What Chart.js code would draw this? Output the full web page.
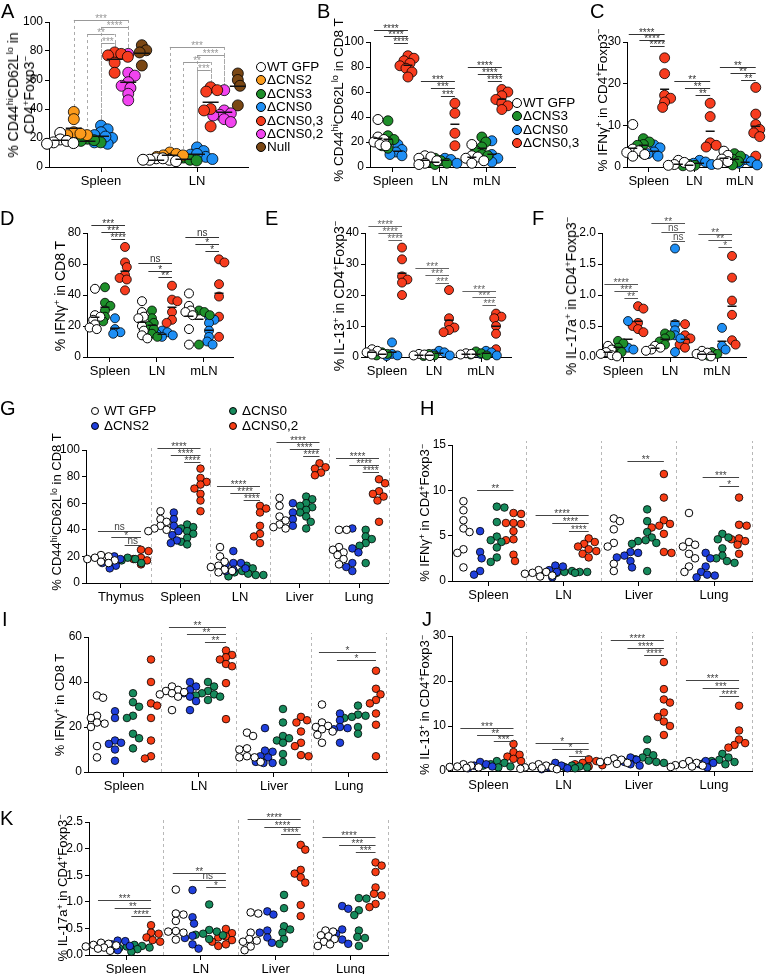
<!DOCTYPE html>
<html>
<head>
<meta charset="utf-8">
<title>CNS deletion panels</title>
<script src="https://cdn.jsdelivr.net/npm/chart.js@4.4.1/dist/chart.umd.min.js"></script>
<style>
  body { margin: 0; background: #fff; }
  #fig { position: relative; width: 767px; height: 974px; overflow: hidden; font-family: Arial, "Liberation Sans", Helvetica, sans-serif; color: #000; }
  #fig canvas { position: absolute; left: 0; top: 0; }
  .letter { position: absolute; font-size: 20px; line-height: 20px; }
  .ytitle { position: absolute; white-space: nowrap; text-align: center; transform: translate(-50%, -50%) rotate(-90deg); font-size: 14px; line-height: 16px; }
  .ytitle.md { font-size: 13.5px; }
  .ytitle.sm { font-size: 13px; }
  .s { font-size: 0.68em; vertical-align: 0.5em; line-height: 0; }
  .legend { position: absolute; font-size: 13.5px; }
  .legend div { height: 13.4px; line-height: 13.4px; white-space: nowrap; }
  .legend.g { font-size: 13.5px; }
  .legend.g div { height: 14.5px; line-height: 14.5px; }
  .dot { display: inline-block; box-sizing: border-box; border: 1px solid #000; border-radius: 50%; vertical-align: -1px; width: 10px; height: 10px; margin-right: 1px; }
  .legend.g .dot { width: 8px; height: 8px; margin-right: 5px; vertical-align: 0; }
</style>
</head>
<body>
<div id="fig">
  <div class="letter" style="left:1px;top:1px">A</div>
  <div class="letter" style="left:317px;top:1px">B</div>
  <div class="letter" style="left:590px;top:1px">C</div>
  <div class="letter" style="left:0px;top:208px">D</div>
  <div class="letter" style="left:265px;top:208px">E</div>
  <div class="letter" style="left:532px;top:208px">F</div>
  <div class="letter" style="left:0px;top:398px">G</div>
  <div class="letter" style="left:420px;top:398px">H</div>
  <div class="letter" style="left:2px;top:609px">I</div>
  <div class="letter" style="left:422px;top:609px">J</div>
  <div class="letter" style="left:0px;top:808px">K</div>

  <div class="ytitle" style="left:21px;top:95px">% CD44<span class="s">hi</span>CD62L<span class="s">lo</span> in<br>CD4<span class="s">+</span>Foxp3<span class="s">−</span></div>
  <div class="ytitle md" style="left:339px;top:100px">% CD44<span class="s">hi</span>CD62L<span class="s">lo</span> in CD8 T</div>
  <div class="ytitle md" style="left:603px;top:100px">% IFNγ<span class="s">+</span> in CD4<span class="s">+</span>Foxp3<span class="s">−</span></div>
  <div class="ytitle" style="left:60px;top:296px">% IFNγ<span class="s">+</span> in CD8 T</div>
  <div class="ytitle" style="left:339px;top:296px">% IL-13<span class="s">+</span> in CD4<span class="s">+</span>Foxp3<span class="s">−</span></div>
  <div class="ytitle" style="left:571px;top:296px">% IL-17a<span class="s">+</span> in CD4<span class="s">+</span>Foxp3<span class="s">−</span></div>
  <div class="ytitle sm" style="left:57px;top:512px">% CD44<span class="s">hi</span>CD62L<span class="s">lo</span> in CD8 T</div>
  <div class="ytitle sm" style="left:425px;top:513px">% IFNγ<span class="s">+</span> in CD4<span class="s">+</span>Foxp3<span class="s">−</span></div>
  <div class="ytitle sm" style="left:60px;top:705px">% IFNγ<span class="s">+</span> in CD8 T</div>
  <div class="ytitle sm" style="left:425px;top:705px">% IL-13<span class="s">+</span> in CD4<span class="s">+</span>Foxp3<span class="s">−</span></div>
  <div class="ytitle sm" style="left:63px;top:888px">% IL-17a<span class="s">+</span> in CD4<span class="s">+</span>Foxp3<span class="s">−</span></div>

  <div class="legend" id="legA" style="left:256px;top:60px"></div>
  <div class="legend" id="legB" style="left:512px;top:96px"></div>
  <div class="legend g" id="legG1" style="left:91px;top:404px"></div>
  <div class="legend g" id="legG2" style="left:229px;top:404px"></div>
</div>

<script>
const W = 767, H = 974;
const FONT = 'Arial, "Liberation Sans", Helvetica, sans-serif';

// categories
const tissuesA = ['Spleen', 'LN'];
const tissues3 = ['Spleen', 'LN', 'mLN'];
const tissues5 = ['Thymus', 'Spleen', 'LN', 'Liver', 'Lung'];
const tissues4 = ['Spleen', 'LN', 'Liver', 'Lung'];

const strainsA = ['WT GFP', 'ΔCNS2', 'ΔCNS3', 'ΔCNS0', 'ΔCNS0,3', 'ΔCNS0,2', 'Null'];
const strainsB = ['WT GFP', 'ΔCNS3', 'ΔCNS0', 'ΔCNS0,3'];
const strainsG = ['WT GFP', 'ΔCNS2', 'ΔCNS0', 'ΔCNS0,2'];

// tick labels
const ticks100 = [0, 20, 40, 60, 80, 100];
const ticks80 = [0, 20, 40, 60, 80];
const ticks30 = [0, 10, 20, 30];
const ticks40 = [0, 10, 20, 30, 40];
const ticks2 = [0, 0.5, 1, 1.5, 2];
const ticks15 = [0, 5, 10, 15];
const ticks60 = [0, 20, 40, 60];
const ticks25 = [0, 0.5, 1, 1.5, 2, 2.5];

// A: % CD44hi CD62Llo in CD4+Foxp3-  (per tissue: Spleen, LN)
const aWT = [[23.5, 19, 18, 17, 16.5, 16], [6, 5, 5, 4, 6, 5]];
const aCNS2 = [[38, 33, 24, 22, 22, 23], [10, 8, 7, 6, 9, 8]];
const aCNS3 = [[19.5, 18, 17, 18.5], [6.5, 5, 4.5, 5]];
const aCNS0 = [[28.5, 26, 24, 22, 20, 18, 16, 17, 21], [13.5, 11, 8.5, 7, 5.5, 7, 9]];
const aCNS03 = [[79, 78, 77, 76, 72, 65], [55, 53, 52, 40, 39, 28]];
const aCNS02 = [[78, 65, 63, 58.5, 56, 54.5, 50.5, 46], [53, 39, 37, 36, 35.5, 33, 31]];
const aNull = [[84, 80.5, 79, 70], [64.5, 60, 56, 42.5]];
const aStats = [[0, 1, 5, 101.4, '***'], [0, 3, 5, 96.6, '****'], [0, 2, 4, 91.7, '**'], [0, 3, 4, 85.5, '***'],
                [1, 1, 5, 82.8, '***'], [1, 3, 5, 77.2, '****'], [1, 2, 4, 72.4, '**'], [1, 3, 4, 66.9, '***']];

// B: % CD44hi CD62Llo in CD8 T
const bWT = [[38, 24, 22, 20, 18, 17], [9, 8, 7, 5, 3, 2], [18, 9, 8, 7, 5, 3]];
const bCNS3 = [[37, 25, 22, 20, 17, 15], [7, 5, 4, 3, 2], [24, 20, 16, 13, 10, 9]];
const bCNS0 = [[18, 14, 12, 10, 9], [7, 6, 5, 3], [21, 10, 7, 4]];
const bCNS03 = [[89, 87, 85, 83, 81, 79, 76, 72], [51, 43, 27, 17], [62, 60, 57, 54, 51, 49, 46]];
const bStats = [[0, 0, 3, 109.4, '****'], [0, 1, 3, 104.8, '****'], [0, 2, 3, 99, '****'],
                [1, 0, 3, 68.8, '***'], [1, 1, 3, 63, '***'], [1, 2, 3, 57, '***'],
                [2, 0, 3, 80.3, '****'], [2, 1, 3, 74.4, '****'], [2, 2, 3, 68.8, '****']];

// C: % IFNg+ in CD4+Foxp3-
const cWT = [[10.2, 4.3, 3.9, 3.5, 3.0, 2.6], [1.6, 1.1, 0.6, 0.4, 0.2], [3.8, 2.8, 1.9, 1.3, 0.7]];
const cCNS3 = [[6.8, 6.0, 5.4, 5.2, 3.2], [0.6, 0.4, 0.3], [3.2, 2.6, 1.9, 1.3, 0.5]];
const cCNS0 = [[5.3, 4.6, 3.6, 3.2, 2.6], [1.6, 1.2, 0.9, 0.6], [1.8, 1.3, 0.9, 0.5]];
const cCNS03 = [[26.2, 22.4, 17.2, 16.5, 15.6, 14.3], [15.3, 12.1, 5.8, 5.2, 4.8], [19.1, 12.7, 10.2, 9.0, 8.2, 7.3, 2.6]];
const cStats = [[0, 0, 3, 31.8, '****'], [0, 1, 3, 30.6, '****'], [0, 2, 3, 29.0, '****'],
                [1, 0, 3, 20.6, '**'], [1, 1, 3, 18.9, '**'], [1, 2, 3, 17.3, '**'],
                [2, 0, 3, 24.0, '**'], [2, 1, 3, 22.6, '**'], [2, 2, 3, 20.9, '**']];

// D: % IFNg+ in CD8 T
const dWT = [[44, 27, 26, 24, 21, 19, 18], [36, 29, 26, 25, 20, 17, 14, 12], [41, 33, 30, 29, 27, 18, 8]];
const dCNS3 = [[45, 35, 33, 30, 26, 23], [30, 25, 22, 20, 18, 15, 13], [30, 29, 28, 27, 8]];
const dCNS0 = [[25, 18, 16, 15], [17, 16, 15, 14, 13], [26, 24, 22, 17, 13, 10, 8]];
const dCNS03 = [[71, 61, 58, 53, 51, 50, 43], [46, 37, 36, 29, 24, 22], [63, 61, 47, 39, 26, 13]];
const dStats = [[0, 0, 3, 85, '***'], [0, 1, 3, 80.4, '***'], [0, 2, 3, 76, '****'],
                [1, 0, 3, 60.4, 'ns'], [1, 1, 3, 55.7, '*'], [1, 2, 3, 51.4, '**'],
                [2, 0, 3, 77.2, 'ns'], [2, 1, 3, 73, '*'], [2, 2, 3, 68.4, '*']];

// E: % IL-13+ in CD4+Foxp3-
const eWT = [[2.5, 2, 1.5, 1, 0.8], [1, 0.8, 0.5, 0.3], [1.2, 1, 0.8]];
const eCNS3 = [[1.5, 1, 0.5], [1, 0.5, 0.3], [1.8, 1.2, 0.8, 0.5]];
const eCNS0 = [[4.7, 1, 0.5, 0.3], [2, 1.5, 1, 0.5], [2, 1.5, 1, 0.5]];
const eCNS03 = [[35.3, 31.5, 26, 25, 24, 20], [21.6, 12.5, 10.5, 9.5, 8.7, 8], [14, 13, 12.5, 10, 7.5, 2.5]];
const eStats = [[0, 0, 3, 42.4, '****'], [0, 1, 3, 40, '****'], [0, 2, 3, 37.9, '****'],
                [1, 0, 3, 28.6, '***'], [1, 1, 3, 26.4, '***'], [1, 2, 3, 24, '***'],
                [2, 0, 3, 21.4, '***'], [2, 1, 3, 19.2, '***'], [2, 2, 3, 16.8, '***']];

// F: % IL-17a+ in CD4+Foxp3-
const fWT = [[0.18, 0.12, 0.08, 0.05, 0.03, 0.01], [0.18, 0.15, 0.12, 0.1], [0.1, 0.07, 0.05, 0.02, 0.01]];
const fCNS3 = [[0.26, 0.22, 0.15, 0.12, 0.08], [0.38, 0.35, 0.3, 0.25, 0.2], [0.08, 0.05, 0.02]];
const fCNS0 = [[0.58, 0.15, 0.12], [1.75, 0.53, 0.43, 0.35, 0.3, 0.08], [0.47, 0.18, 0.12]];
const fCNS03 = [[0.82, 0.78, 0.55, 0.5, 0.45, 0.4], [0.53, 0.35, 0.3, 0.25, 0.2, 0.15], [1.63, 1.28, 0.91, 0.68, 0.27, 0.2]];
const fStats = [[0, 0, 3, 1.175, '****'], [0, 1, 3, 1.057, '***'], [0, 2, 3, 0.95, '**'],
                [1, 0, 3, 2.16, '**'], [1, 1, 3, 2.01, 'ns'], [1, 2, 3, 1.87, 'ns'],
                [2, 0, 3, 1.99, '**'], [2, 1, 3, 1.89, '**'], [2, 2, 3, 1.77, '*']];

// G: % CD44hi CD62Llo in CD8 T (Thymus, Spleen, LN, Liver, Lung)
const gWT = [[21, 20, 19, 18, 17, 16, 15], [54, 48, 46, 43, 41, 40, 39], [27, 20, 16, 13, 12, 10, 9, 8], [64, 58, 50, 47, 44, 42, 41], [40, 40, 27, 25, 23, 21, 18, 14]];
const gCNS2 = [[20, 18, 16, 15, 13, 11], [53, 48, 43, 39, 36, 32, 30], [24, 15, 15, 14, 11, 10, 9], [60, 53, 48, 43], [41, 26, 23, 15, 12, 9]];
const gCNS0 = [[19, 18, 17, 16, 15], [44, 42, 41, 39, 37, 34, 31, 29], [13, 11, 9, 8, 7, 6, 6, 5], [65, 63, 60, 58, 57, 55, 53, 50, 46, 41], [40, 35, 33, 30, 28, 15]];
const gCNS02 = [[25, 24, 19, 18, 17, 14], [86, 79, 76, 74, 71, 67, 62, 54], [58, 56, 53, 43, 37, 35, 30], [90, 87, 86, 83, 81], [78, 75, 69, 67, 65, 62, 46]];
const gStats = [[0, 0, 3, 39, 'ns'], [0, 1, 3, 34.5, '*'], [0, 2, 3, 28.5, 'ns'],
                [1, 0, 3, 101.7, '****'], [1, 1, 3, 96, '****'], [1, 2, 3, 91, '****'],
                [2, 0, 3, 73, '****'], [2, 1, 3, 68, '****'], [2, 2, 3, 62.5, '****'],
                [3, 0, 3, 106, '****'], [3, 1, 3, 100.7, '****'], [3, 2, 3, 95.7, '****'],
                [4, 0, 3, 94, '****'], [4, 1, 3, 88.7, '****'], [4, 2, 3, 83.7, '****']];

// H: % IFNg+ in CD4+Foxp3-
const hWT = [[8.8, 7.8, 6.7, 5.8, 5.4, 3.5, 3.1, 1.5], [1.2, 1.0, 0.9, 0.8, 0.6, 0.5], [6.9, 6.6, 5.7, 4.2, 3.8, 1.9, 1.1], [7.5, 4.3, 4.0, 3.8, 3.0, 2.5, 1.6, 1.0]];
const hCNS2 = [[5.5, 3.2, 2.5, 1.1, 0.7], [1.7, 1.6, 1.2, 1.0, 0.4], [3.2, 3.1, 2.8, 2.6, 2.2, 1.5], [3.1, 2.5, 1.6, 1.0, 0.7, 0.6, 0.4]];
const hCNS0 = [[8.2, 8.1, 6.5, 4.9, 4.5, 4.3, 3.7, 2.6, 2.1], [1.1, 1.0, 1.0, 1.0, 0.9, 0.9], [7.9, 6.6, 5.4, 4.8, 4.5, 4.4, 4.2, 4.1, 1.1], [5.2, 4.8, 4.6, 3.6, 2.8, 2.5, 2.2, 2.0]];
const hCNS02 = [[7.5, 7.4, 6.4, 6.4, 6.3, 5.5, 4.6, 4.5, 2.9, 2.2], [4.7, 4.3, 4.1, 3.8, 3.5, 3.3, 3.0, 2.6], [11.8, 9.2, 6.7, 6.3, 6.1, 5.9, 5.2, 3.2, 3.1], [9.2, 6.2, 6.1, 4.7, 4.6, 4.4, 4.0, 3.0]];
const hStats = [[0, 1, 3, 10.0, '**'],
                [1, 0, 3, 7.3, '****'], [1, 1, 3, 6.4, '****'], [1, 2, 3, 5.5, '****'],
                [2, 1, 3, 13.2, '**'],
                [3, 1, 3, 11.5, '***'], [3, 2, 3, 10.5, '*']];

// I: % IFNg+ in CD8 T
const iWT = [[34, 33, 25, 24, 22, 21.5, 20, 11.5, 6.5], [38, 36.5, 36, 35.5, 35, 34.5, 33.5, 27.5], [17.5, 16, 10.5, 10, 7, 6.5, 6.5, 4.5], [30, 22, 20.5, 20, 19, 18, 16.5, 13]];
const iCNS2 = [[27, 24, 14, 13, 12.5, 10, 5], [40, 38, 36.5, 35, 33.5, 31.5, 27.5], [19.5, 9.5, 9, 7, 6.5, 4.5, 4, 4], [26, 23, 20, 19.5, 19, 13]];
const iCNS0 = [[35, 31, 29, 25, 24, 17, 15, 10.5], [40, 38, 36, 35, 34.5, 34, 33.5, 32], [28, 22, 16, 15, 14, 13, 8, 4.5], [29.5, 25.5, 25, 24.5, 24, 20, 17]];
const iCNS02 = [[50, 40, 30.5, 29.5, 24, 14, 7, 6], [54, 52, 51, 50, 48, 47, 39.5, 23.5], [24.5, 23, 22, 18, 13, 11.5, 7.5, 7], [45, 37, 34.5, 32, 30.5, 26, 21, 7]];
const iStats = [[1, 0, 3, 64.6, '**'], [1, 1, 3, 61.2, '**'], [1, 2, 3, 57.9, '**'],
                [3, 0, 3, 53.2, '*'], [3, 1, 3, 49.8, '*']];

// J: % IL-13+ in CD4+Foxp3-
const jWT = [[1.5, 1.2, 1.0, 0.9, 0.8, 0.7, 0.6], [1.5, 1.2, 1.0, 0.8, 0.7, 0.6, 0.5, 0.4], [2.8, 2.5, 2.2, 2.0, 1.8, 1.6], [2.2, 1.8, 1.5, 1.3, 1.2, 1.0, 0.9]];
const jCNS2 = [[2.0, 1.5, 1.2, 1.0, 0.6], [1.8, 1.2, 0.8, 0.6, 0.4], [3.0, 2.5, 2.0, 1.5, 1.2], [2.2, 1.8, 1.5, 1.2, 0.8]];
const jCNS0 = [[2.2, 1.8, 1.5, 1.2, 1.0, 0.8], [1.2, 1.0, 0.9, 0.8, 0.7, 0.6], [7.0, 4.2, 3.5, 3.0, 2.6, 2.3, 2.0, 1.8], [3.8, 3.0, 2.5, 2.2, 2.0, 1.8, 1.5]];
const jCNS02 = [[6.0, 4.2, 3.6, 3.2, 2.7, 2.2], [2.6, 2.2, 1.8, 1.5, 1.3, 1.0], [24.2, 18.2, 15.9, 15.2, 13, 12, 11, 10, 8], [14.5, 9.0, 7.0, 6.2, 5.8, 5.2]];
const jStats = [[0, 0, 3, 9.6, '***'], [0, 1, 3, 8.0, '**'], [0, 2, 3, 6.6, '***'],
                [1, 0, 3, 6.3, '*'], [1, 1, 3, 4.8, '*'], [1, 2, 3, 3.3, '**'],
                [2, 0, 3, 29.1, '****'], [2, 1, 3, 27.3, '****'], [2, 2, 3, 25.7, '****'],
                [3, 0, 3, 20.2, '***'], [3, 1, 3, 18.4, '***'], [3, 2, 3, 16.7, '****']];

// K: % IL-17a+ in CD4+Foxp3-
const kWT = [[0.23, 0.21, 0.19, 0.18, 0.16, 0.14, 0.12, 0.08], [1.23, 0.78, 0.76, 0.64, 0.45, 0.44, 0.42, 0.29], [0.8, 0.78, 0.42, 0.3, 0.27, 0.25, 0.16, 0.09], [0.46, 0.44, 0.37, 0.35, 0.3, 0.25, 0.2, 0.17]];
const kCNS2 = [[0.27, 0.26, 0.2, 0.17, 0.09], [1.22, 0.71, 0.59, 0.36, 0.32, 0.2, 0.12], [0.82, 0.76, 0.46, 0.42, 0.33, 0.23], [0.92, 0.87, 0.48, 0.4, 0.29, 0.21]];
const kCNS0 = [[0.19, 0.17, 0.16, 0.14, 0.13, 0.11, 0.06], [0.95, 0.47, 0.44, 0.4, 0.38, 0.37, 0.3], [1.13, 0.88, 0.54, 0.48, 0.42, 0.3, 0.21], [1.07, 1.06, 0.84, 0.75, 0.46, 0.34, 0.32, 0.17]];
const kCNS02 = [[0.56, 0.42, 0.4, 0.33, 0.28, 0.25], [0.49, 0.41, 0.35, 0.33, 0.28, 0.25, 0.2, 0.17], [2.07, 1.98, 1.6, 1.53, 1.46, 1.36, 0.94, 0.73], [1.74, 1.68, 1.56, 1.27, 1.15, 1.12, 0.96, 0.9]];
const kStats = [[0, 0, 3, 1.03, '***'], [0, 1, 3, 0.875, '**'], [0, 2, 3, 0.73, '****'],
                [1, 0, 3, 1.55, '**'], [1, 1, 3, 1.41, 'ns'], [1, 2, 3, 1.27, '*'],
                [2, 0, 3, 2.55, '****'], [2, 1, 3, 2.41, '****'], [2, 2, 3, 2.28, '****'],
                [3, 0, 3, 2.22, '****'], [3, 1, 3, 2.06, '***'], [3, 2, 3, 1.93, '***']];

// colours
const colorsA = ['#ffffff', '#fb9b1c', '#1e8f2a', '#1e8ff5', '#f73c1e', '#f244f0', '#7a4714'];
const colorsB = ['#ffffff', '#1e8f2a', '#1e8ff5', '#f73c1e'];
const colorsG = ['#ffffff', '#1f3fdc', '#168a5c', '#f73c14'];

function colX(cfg, g, s) {
  return g + (s - (cfg.values.length - 1) / 2) * cfg.sub;
}

// spread overlapping points of one column sideways (simple beeswarm)
function swarm(chart, cfg) {
  const xs = chart.scales.x, ys = chart.scales.y;
  const step = cfg.r * 0.4, minD = cfg.r * 2 * cfg.tight;
  chart.data.datasets.forEach((ds, s) => {
    cfg.groups.forEach((_, g) => {
      const cx = xs.getPixelForValue(colX(cfg, g, s));
      const pts = ds.data.filter(p => p.g === g).sort((a, b) => b.y - a.y);
      const placed = [];
      let bias = 0;
      pts.forEach(p => {
        const py = ys.getPixelForValue(p.y);
        let pick = null, bestGap = -1, fallback = 0;
        for (let k = 0; k <= 12 && pick === null; k++) {
          const cand = k === 0 ? [0] : (bias > 0 ? [-k * step, k * step] : [k * step, -k * step]);
          for (const o of cand) {
            let gap = Infinity;
            placed.forEach(q => { gap = Math.min(gap, Math.hypot(cx + o - q[0], py - q[1])); });
            if (gap >= minD) { pick = o; break; }
            if (gap > bestGap) { bestGap = gap; fallback = o; }
          }
        }
        if (pick === null) pick = fallback;
        bias += pick;
        placed.push([cx + pick, py]);
        p.x = xs.getValueForPixel(cx + pick);
      });
    });
    ds.data = ds.data.slice();
  });
  chart.update('none');
}

function extras(cfg) {
  return {
    id: 'extras',
    beforeDatasetsDraw(chart) {
      const { ctx, chartArea: ca, scales: { x, y } } = chart;
      ctx.save();
      ctx.lineWidth = 1;
      ctx.setLineDash([3, 3]);
      ctx.strokeStyle = '#b8b8b8';
      if (cfg.dividers) {
        cfg.groups.forEach((_, g) => {
          const px = Math.round(x.getPixelForValue(g + 0.5)) + 0.5;
          ctx.beginPath(); ctx.moveTo(px, ca.bottom); ctx.lineTo(px, ca.top - 4); ctx.stroke();
        });
      }
      if (cfg.drops) {
        ctx.strokeStyle = '#aaaaaa';
        cfg.stats.forEach(([g, a, b, lv]) => {
          [a, b].forEach(s => {
            const px = Math.round(x.getPixelForValue(colX(cfg, g, s))) + 0.5;
            const top = y.getPixelForValue(Math.max(...cfg.values[s][g])) - cfg.r;
            ctx.beginPath(); ctx.moveTo(px, y.getPixelForValue(lv)); ctx.lineTo(px, top); ctx.stroke();
          });
        });
      }
      ctx.restore();
    },
    afterDatasetsDraw(chart) {
      const { ctx, scales: { x, y } } = chart;
      ctx.save();
      if (cfg.meanW) {
        ctx.strokeStyle = '#111';
        ctx.lineWidth = 1.5;
        cfg.values.forEach((series, s) => {
          series.forEach((vals, g) => {
            const m = vals.reduce((t, v) => t + v, 0) / vals.length;
            const px = x.getPixelForValue(colX(cfg, g, s));
            const py = Math.round(y.getPixelForValue(m)) + 0.25;
            ctx.beginPath(); ctx.moveTo(px - cfg.meanW / 2, py); ctx.lineTo(px + cfg.meanW / 2, py); ctx.stroke();
          });
        });
      }
      ctx.strokeStyle = cfg.barColor;
      ctx.fillStyle = cfg.barColor;
      ctx.lineWidth = 1;
      ctx.textAlign = 'center';
      ctx.textBaseline = 'alphabetic';
      ctx.font = `10px ${FONT}`;
      cfg.stats.forEach(([g, a, b, lv, lab]) => {
        const pad = cfg.drops ? 0 : cfg.r * 0.8;
        const x1 = x.getPixelForValue(colX(cfg, g, a)) - pad;
        const x2 = x.getPixelForValue(colX(cfg, g, b));
        const py = Math.round(y.getPixelForValue(lv)) + 0.5;
        ctx.beginPath(); ctx.moveTo(x1, py); ctx.lineTo(x2, py); ctx.stroke();
        ctx.fillText(lab, (x1 + x2) / 2, lab === 'ns' ? py - 2 : py + 1.5);
      });
      ctx.restore();
    }
  };
}

function makePanel(cfg) {
  const fig = document.getElementById('fig');
  const cv = document.createElement('canvas');
  cv.width = W; cv.height = H;
  fig.insertBefore(cv, fig.firstChild);
  const [x0, y0, x1, y1] = cfg.box;
  const YW = 40, XH = 24;
  const gridOpts = (len) => ({ display: true, drawOnChartArea: false, drawTicks: true, tickLength: len, color: '#000', lineWidth: 1 });
  const chart = new Chart(cv, {
    type: 'scatter',
    data: {
      datasets: cfg.values.map((series, s) => ({
        label: cfg.names[s],
        data: series.flatMap((arr, g) => arr.map(v => ({ x: colX(cfg, g, s), y: v, g }))),
        backgroundColor: cfg.colors[s],
        borderColor: '#000',
        borderWidth: cfg.colors[s] === '#ffffff' ? 1 : 0.8,
        pointRadius: cfg.r,
        pointHoverRadius: cfg.r,
        clip: false
      }))
    },
    options: {
      responsive: false,
      animation: false,
      events: [],
      devicePixelRatio: 1,
      layout: { padding: { left: x0 - YW, top: y0, right: W - x1, bottom: H - y1 - XH } },
      plugins: { legend: { display: false }, tooltip: { enabled: false } },
      scales: {
        x: {
          type: 'linear', min: cfg.xr[0], max: cfg.xr[1],
          afterFit: sc => { sc.height = XH; },
          afterBuildTicks: sc => { sc.ticks = cfg.groups.map((_, i) => ({ value: i })); },
          ticks: { autoSkip: false, maxRotation: 0, color: '#000', padding: 2,
                   font: { family: FONT, size: 13 }, callback: v => cfg.groups[Math.round(v)] },
          grid: gridOpts(5),
          border: { display: true, color: '#000', width: 1 }
        },
        y: {
          min: 0, max: cfg.yTicks[cfg.yTicks.length - 1],
          afterFit: sc => { sc.width = YW; },
          afterBuildTicks: sc => { sc.ticks = cfg.yTicks.map(v => ({ value: v })); },
          ticks: { color: '#000', padding: 2, font: { family: FONT, size: 12 },
                   callback: v => Number(v).toFixed(cfg.dec) },
          grid: gridOpts(4),
          border: { display: true, color: '#000', width: 1 }
        }
      }
    },
    plugins: [extras(cfg)]
  });
  swarm(chart, cfg);
  return chart;
}

const common = { dec: 0, tight: 0.55, meanW: 9, barColor: '#333', drops: false, dividers: false };

makePanel({ ...common, groups: tissuesA, names: strainsA, colors: colorsA,
  values: [aWT, aCNS2, aCNS3, aCNS0, aCNS03, aCNS02, aNull], stats: aStats, yTicks: ticks100,
  box: [49, 22, 248, 167], xr: [-0.542, 1.531], sub: 0.1417, r: 5.5, meanW: 16, barColor: '#999', drops: true });

makePanel({ ...common, groups: tissues3, names: strainsB, colors: colorsB,
  values: [bWT, bCNS3, bCNS0, bCNS03], stats: bStats, yTicks: ticks100,
  box: [370, 42, 515, 167], xr: [-0.489, 2.6], sub: 0.213, r: 5 });

makePanel({ ...common, groups: tissues3, names: strainsB, colors: colorsB,
  values: [cWT, cCNS3, cCNS0, cCNS03], stats: cStats, yTicks: ticks30,
  box: [627, 42, 766, 167], xr: [-0.476, 2.465], sub: 0.233, r: 5 });

makePanel({ ...common, groups: tissues3, names: strainsB, colors: colorsB,
  values: [dWT, dCNS3, dCNS0, dCNS03], stats: dStats, yTicks: ticks80,
  box: [87, 233, 233, 357], xr: [-0.489, 2.617], sub: 0.213, r: 4.5 });

makePanel({ ...common, groups: tissues3, names: strainsB, colors: colorsB,
  values: [eWT, eCNS3, eCNS0, eCNS03], stats: eStats, yTicks: ticks40,
  box: [365, 233, 511, 357], xr: [-0.468, 2.638], sub: 0.213, r: 4.5, barColor: '#666' });

makePanel({ ...common, groups: tissues3, names: strainsB, colors: colorsB,
  values: [fWT, fCNS3, fCNS0, fCNS03], stats: fStats, yTicks: ticks2, dec: 1,
  box: [602, 233, 746, 357], xr: [-0.447, 2.617], sub: 0.213, r: 4.5, barColor: '#555' });

const lower = { ...common, names: strainsG, colors: colorsG, r: 3.8, tight: 0.85, meanW: 0, dividers: true, barColor: '#444' };

makePanel({ ...lower, groups: tissues5, values: [gWT, gCNS2, gCNS0, gCNS02], stats: gStats, yTicks: ticks100,
  box: [86, 450, 388, 583], xr: [-0.588, 4.487], sub: 0.224 });

makePanel({ ...lower, groups: tissues4, values: [hWT, hCNS2, hCNS0, hCNS02], stats: hStats, yTicks: ticks15,
  box: [452, 445, 752, 581], xr: [-0.485, 3.505], sub: 0.222 });

makePanel({ ...lower, groups: tissues4, values: [iWT, iCNS2, iCNS0, iCNS02], stats: iStats, yTicks: ticks60,
  box: [88, 637, 387, 772], xr: [-0.48, 3.507], sub: 0.24 });

makePanel({ ...lower, groups: tissues4, values: [jWT, jCNS2, jCNS0, jCNS02], stats: jStats, yTicks: ticks30,
  box: [452, 636, 752, 771], xr: [-0.485, 3.505], sub: 0.222 });

makePanel({ ...lower, groups: tissues4, values: [kWT, kCNS2, kCNS0, kCNS02], stats: kStats, yTicks: ticks25, dec: 1,
  box: [89, 822, 388, 955], xr: [-0.495, 3.501], sub: 0.223 });

// legends
function legend(id, names, colors, from, to) {
  const el = document.getElementById(id);
  for (let i = from; i < to; i++) {
    const row = document.createElement('div');
    const dot = document.createElement('span');
    dot.className = 'dot';
    dot.style.background = colors[i];
    row.appendChild(dot);
    row.appendChild(document.createTextNode(names[i]));
    el.appendChild(row);
  }
}
legend('legA', strainsA, colorsA, 0, strainsA.length);
legend('legB', strainsB, colorsB, 0, strainsB.length);
legend('legG1', strainsG, colorsG, 0, 2);
legend('legG2', strainsG, colorsG, 2, 4);
</script>
</body>
</html>
